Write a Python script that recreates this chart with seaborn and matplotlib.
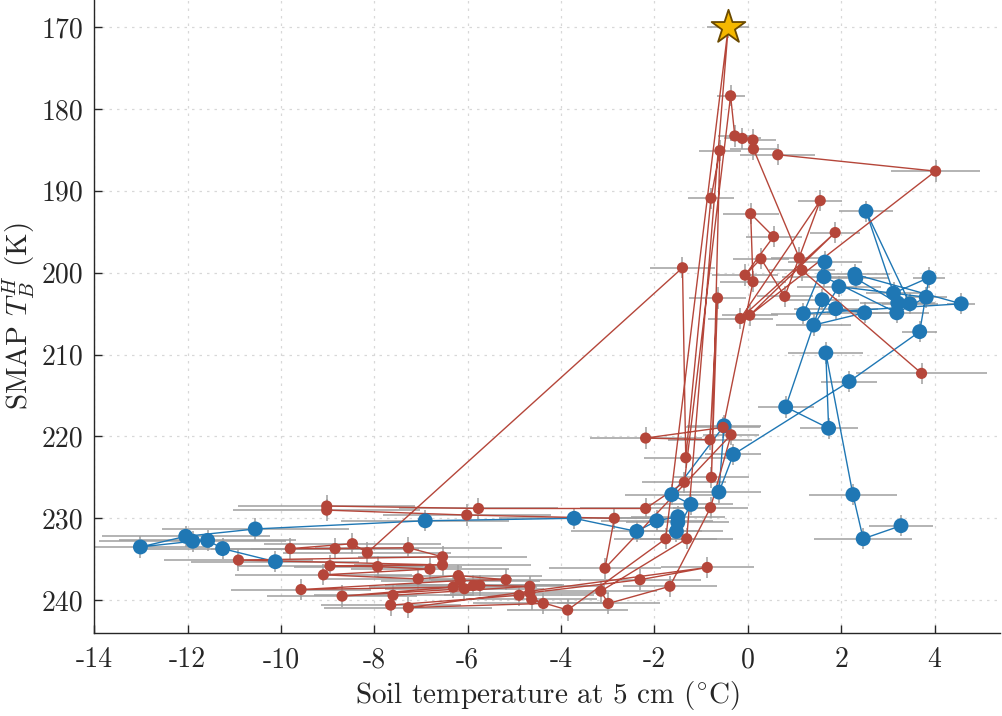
import matplotlib
matplotlib.use("Agg")
import matplotlib.pyplot as plt
import seaborn as sns
import numpy as np
import pandas as pd

# ---------------- data ----------------
blue_x = [-10.12, -11.25, -11.57, -11.89, -13.01, -12.04, -10.55, -6.91, -3.72, -2.38,
          -1.95, -1.50, -1.50, -1.53, -1.22, -1.63, -0.51, -0.62, -0.31, 2.17,
          3.68, 3.88, 3.12, 2.53, 3.47, 3.21, 2.31, 2.29, 4.57, 1.19,
          1.65, 1.63, 3.19, 3.82, 1.95, 1.41, 2.50, 1.88, 1.59, 0.81,
          1.73, 1.67, 2.25, 2.47, 3.28]
blue_y = [235.3, 233.7, 232.7, 232.8, 233.5, 232.2, 231.3, 230.3, 230.0, 231.6,
          230.3, 229.8, 230.5, 231.6, 228.3, 227.1, 218.7, 226.8, 222.2, 213.3,
          207.2, 200.6, 202.5, 192.5, 203.8, 203.7, 200.7, 200.2, 203.8, 205.0,
          198.7, 200.5, 204.9, 203.0, 201.7, 206.4, 204.9, 204.4, 203.3, 216.4,
          219.0, 209.8, 227.1, 232.5, 230.9]
blue_xerr = [1.8, 1.7, 1.9, 2.0, 1.5, 1.8, 2.0, 1.8, 1.6, 1.4,
             1.2, 1.0, 1.1, 1.0, 0.9, 1.0, 0.8, 0.9, 0.6, 0.6,
             0.37, 0.35, 0.6, 0.58, 0.6, 0.8, 0.7, 0.75, 0.3, 0.7,
             0.8, 0.9, 0.7, 0.45, 0.9, 0.8, 0.8, 0.9, 0.8, 0.6,
             0.62, 0.8, 0.95, 1.05, 0.68]

red_x = [0.64, 4.02, 0.04, 1.87, -0.16, 1.55, 0.79, 0.28, -0.06, 0.55,
         0.06, 0.11, -0.53, -2.19, -0.81, -0.65, -0.78, -0.60, -0.79, -1.33,
         -1.40, -8.15, -8.47, -9.80, -8.84, -7.27, -6.54, -10.91, -6.54, -8.95,
         -7.93, -6.81, -9.09, -7.06, -6.20, -5.18, -6.16, -9.57, -6.31, -5.88,
         -8.69, -6.07, -5.74, -4.67, -7.60, -7.65, -4.90, -4.67, -2.31, -0.87,
         -7.27, -4.38, -4.63, -3.86, -1.76, -0.42, -1.31, -3.15, -2.99, -1.67,
         -0.80, -0.36, -3.06, -2.86, -6.02, -9.02, -9.02, -5.77, -2.19, -1.36,
         -0.37, -0.28, -0.12, 0.11, 0.12, 1.10, 1.16, 3.72]
red_y = [185.6, 187.6, 205.2, 195.1, 205.6, 191.2, 202.9, 198.3, 200.3, 195.6,
         192.8, 201.1, 218.9, 220.2, 220.4, 203.1, 225.0, 185.1, 190.9, 222.6,
         199.4, 234.2, 233.1, 233.7, 233.7, 233.6, 234.7, 235.1, 235.7, 235.8,
         235.9, 236.2, 236.9, 237.4, 237.0, 237.5, 237.6, 238.7, 238.4, 238.2,
         239.5, 238.6, 238.2, 238.3, 239.4, 240.6, 239.4, 239.1, 237.5, 236.0,
         240.9, 240.4, 239.9, 241.2, 232.5, 170.0, 232.5, 238.9, 240.4, 238.3,
         228.7, 219.8, 236.1, 230.0, 229.6, 229.0, 228.5, 228.8, 228.8, 225.6,
         178.4, 183.3, 183.6, 183.8, 184.9, 198.2, 199.7, 212.3]
red_xerr = [0.8, 0.95, 0.6, 0.53, 0.7, 0.47, 0.6, 0.6, 0.7, 0.6,
            0.6, 0.7, 0.8, 1.2, 0.9, 0.6, 0.8, 0.45, 0.5, 0.9,
            0.7, 1.8, 1.9, 1.7, 1.8, 2.0, 1.8, 1.6, 1.9, 2.0,
            1.8, 1.7, 1.9, 2.0, 1.8, 1.6, 1.7, 1.5, 1.8, 1.9,
            1.6, 1.7, 1.8, 1.6, 1.7, 1.5, 1.6, 1.7, 1.3, 1.0,
            1.8, 1.5, 1.4, 1.3, 1.1, 0.45, 1.0, 1.2, 1.1, 1.0,
            0.8, 0.6, 1.2, 1.3, 1.8, 2.0, 1.9, 1.7, 1.4, 0.9,
            0.3, 0.35, 0.4, 0.5, 0.5, 0.6, 0.7, 1.4]
yerr_value = 1.3
star_index = 55

x_ticks = [-14, -12, -10, -8, -6, -4, -2, 0, 2, 4]
x_ticklabels = ["-14", "-12", "-10", "-8", "-6", "-4", "-2", "0", "2", "4"]
y_ticks = [170, 180, 190, 200, 210, 220, 230, 240]
y_ticklabels = ["170", "180", "190", "200", "210", "220", "230", "240"]

BLUE = "#1f77b4"
RED = "#b5463a"
GRAY = "#a0a0a0"

# ---------------- style ----------------
sns.set_theme(style="ticks")
plt.rcParams["font.family"] = ["cmr10", "DejaVu Serif"]
plt.rcParams["mathtext.fontset"] = "cm"
plt.rcParams["axes.unicode_minus"] = False
plt.rcParams["axes.formatter.use_mathtext"] = True

fig = plt.figure(figsize=(10.02, 7.16), dpi=100)
ax = fig.add_axes([0.094, 0.116, 0.904, 0.884])

blue_df = pd.DataFrame({"x": blue_x, "y": blue_y, "xerr": blue_xerr, "order": range(len(blue_x))})
red_df = pd.DataFrame({"x": red_x, "y": red_y, "xerr": red_xerr, "order": range(len(red_x))})

# error bars
for df in (blue_df, red_df):
    ax.errorbar(df["x"], df["y"], xerr=df["xerr"], yerr=yerr_value, fmt="none",
                ecolor=GRAY, elinewidth=1.3, capsize=0, zorder=1, alpha=0.85)

# connecting lines
sns.lineplot(data=blue_df, x="x", y="y", sort=False, estimator=None, color=BLUE,
             linewidth=1.0, ax=ax, zorder=2)
sns.lineplot(data=red_df, x="x", y="y", sort=False, estimator=None, color=RED,
             linewidth=1.0, ax=ax, zorder=3)

# markers
sns.scatterplot(data=blue_df, x="x", y="y", color=BLUE, s=115, edgecolor="none",
                ax=ax, zorder=4)
red_pts = red_df.drop(index=star_index)
sns.scatterplot(data=red_pts, x="x", y="y", color=RED, s=65, edgecolor="none",
                ax=ax, zorder=5)
star_df = red_df.loc[[star_index]]
sns.scatterplot(data=star_df, x="x", y="y", marker="*", s=650, color="#f5b800",
                edgecolor="#6b4a00", linewidth=1.3, ax=ax, zorder=6)

ax.set_xlim(-14, 5.4)
ax.set_ylim(244, 166.7)
ax.set_xticks(x_ticks)
ax.set_xticklabels(x_ticklabels)
ax.set_yticks(y_ticks)
ax.set_yticklabels(y_ticklabels)
ax.tick_params(direction="in", length=6, width=1, labelsize=20, colors="#262626")
ax.tick_params(axis="x", pad=10)
ax.tick_params(axis="y", pad=8)
ax.grid(True, linestyle=(0, (2, 4)), color="#d8d8d8", linewidth=0.9)
for s in ("top", "right"):
    ax.spines[s].set_visible(False)
for s in ("left", "bottom"):
    ax.spines[s].set_color("#262626")
    ax.spines[s].set_linewidth(1.0)

ax.set_xlabel(r"Soil temperature at 5 cm ($^{\circ}$C)", fontsize=21, color="#262626", labelpad=4)
ax.set_ylabel(r"SMAP $T_B^H$ (K)", fontsize=21, color="#262626", labelpad=3)

fig.savefig("out.png", dpi=100)
